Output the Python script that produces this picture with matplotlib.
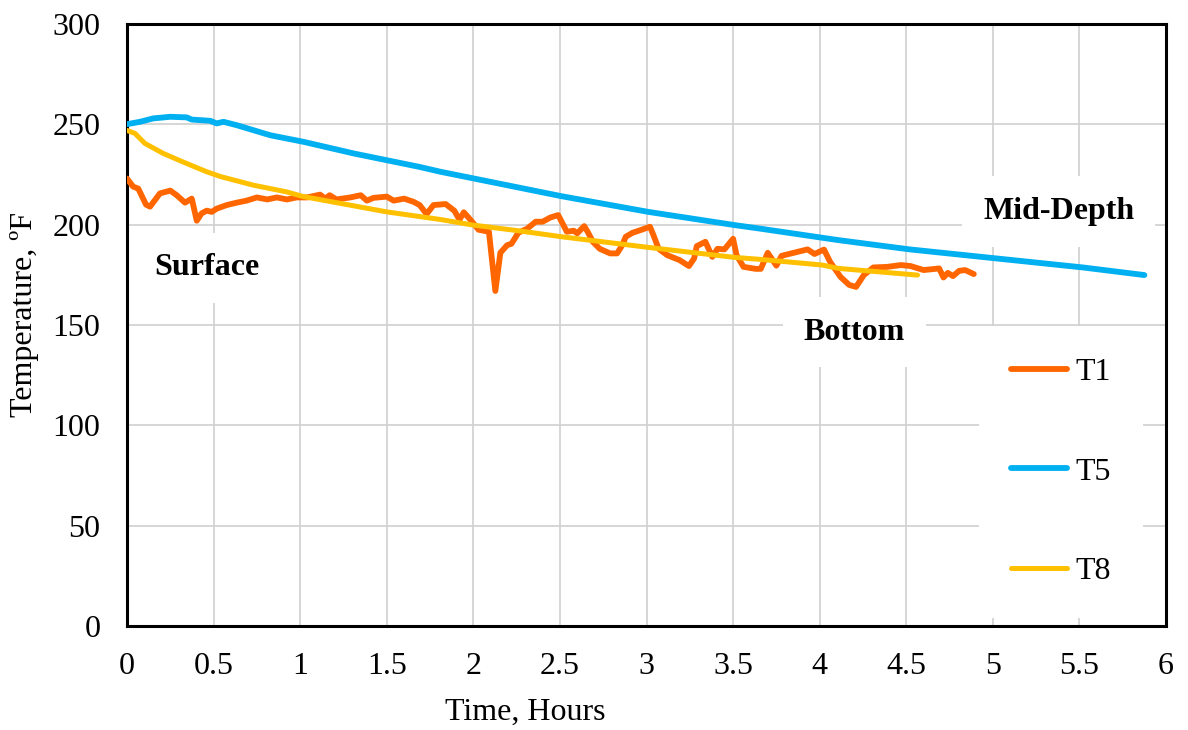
import matplotlib
matplotlib.use("Agg")
import matplotlib.pyplot as plt

# Temperature readings (hours, degrees F)
t1_hours = [0, 0.035, 0.065, 0.11, 0.133, 0.19, 0.25, 0.287, 0.335, 0.374, 0.403, 0.43,
            0.46, 0.49, 0.518, 0.576, 0.634, 0.69, 0.75, 0.81, 0.865, 0.923, 0.98, 1.04,
            1.115, 1.145, 1.17, 1.21, 1.29, 1.35, 1.385, 1.424, 1.50, 1.54, 1.60, 1.655,
            1.69, 1.73, 1.77, 1.84, 1.89, 1.92, 1.945, 1.99, 2.03, 2.09, 2.127, 2.156,
            2.195, 2.22, 2.26, 2.31, 2.36, 2.40, 2.445, 2.49, 2.52, 2.54, 2.58, 2.60,
            2.64, 2.66, 2.69, 2.73, 2.79, 2.83, 2.86, 2.88, 2.92, 2.965, 3.02, 3.04,
            3.07, 3.12, 3.19, 3.245, 3.275, 3.29, 3.34, 3.38, 3.41, 3.45, 3.50, 3.52,
            3.56, 3.63, 3.66, 3.70, 3.75, 3.78, 3.85, 3.93, 3.97, 4.025, 4.06, 4.12,
            4.17, 4.21, 4.255, 4.31, 4.39, 4.47, 4.525, 4.60, 4.69, 4.715, 4.74, 4.77,
            4.805, 4.84, 4.89]
t1_temp = [223, 219, 218, 210, 209, 215.6, 217, 214.7, 211, 213, 202, 205.6,
           207, 206.4, 208, 209.8, 211, 212, 213.6, 212.6, 213.6, 212.6, 213.6, 213.6,
           215, 213, 214.7, 212.6, 213.6, 214.7, 212, 213.4, 214, 212, 213, 211.4,
           209.8, 205.3, 209.8, 210.3, 207, 202.5, 206.2, 201.8, 197.5, 196.5, 167, 186,
           189.8, 190.5, 196, 198, 201.5, 201.5, 203.6, 204.8, 199.8, 196.5, 197, 195.7,
           199.3, 196.5, 191.5, 188, 185.7, 185.7, 189.8, 194, 196, 197.3, 199, 194.8,
           188, 184.8, 182.4, 179.4, 183.2, 189.3, 191.5, 184, 188, 187.7, 193, 184.8,
           179, 178, 178, 186, 179.6, 184.5, 186, 187.7, 185.4, 187.6, 181.5, 174,
           170, 169, 174.9, 178.7, 179, 179.9, 179.4, 177.4, 178.2, 173.7, 176, 174.4,
           177, 177.4, 175.4]

t5_hours = [0, 0.075, 0.152, 0.25, 0.345, 0.374, 0.48, 0.518, 0.557, 0.634, 0.827, 1.02,
            1.31, 1.69, 1.81, 2.51, 3.01, 3.51, 3.66, 4.015, 4.11, 4.52, 5.02, 5.52, 5.875]
t5_temp = [250.1, 251.3, 253, 253.8, 253.5, 252.4, 251.8, 250.5, 251.3, 249.6, 244.6, 241.3,
           235.5, 228.8, 226.4, 214.2, 206.4, 199.8, 198.0, 193.5, 192.3, 187.7, 183.2, 178.7, 174.9]

t8_hours = [0, 0.046, 0.104, 0.21, 0.345, 0.46, 0.54, 0.73, 0.92, 1.02, 1.5, 1.81, 2.0,
            2.26, 2.51, 3.01, 3.51, 3.66, 4.015, 4.11, 4.565]
t8_temp = [247, 245.5, 240.5, 235.5, 230.5, 226.4, 224, 219.7, 216.4, 214, 206.4, 202.6, 199.8,
           197, 194, 188.7, 183.7, 182.7, 179.9, 178.2, 174.9]

series_labels = ["T1", "T5", "T8"]
x_ticks = [0, 0.5, 1, 1.5, 2, 2.5, 3, 3.5, 4, 4.5, 5, 5.5, 6]
x_tick_labels = ["0", "0.5", "1", "1.5", "2", "2.5", "3", "3.5", "4", "4.5", "5", "5.5", "6"]
y_ticks = [0, 50, 100, 150, 200, 250, 300]

plt.rcParams["font.family"] = ["Liberation Serif", "DejaVu Serif"]

fig = plt.figure(figsize=(11.88, 7.30), dpi=100)
ax = fig.add_axes([0.1069, 0.1425, 0.8746, 0.8245])

colors = {"T1": "#FF6600", "T5": "#00B0F0", "T8": "#FFC000"}
ax.plot(t1_hours, t1_temp, color=colors["T1"], lw=4.2, label=series_labels[0],
        solid_capstyle="round", solid_joinstyle="round", zorder=3)
ax.plot(t5_hours, t5_temp, color=colors["T5"], lw=4.2, label=series_labels[1],
        solid_capstyle="round", solid_joinstyle="round", zorder=3)
ax.plot(t8_hours, t8_temp, color=colors["T8"], lw=3.6, label=series_labels[2],
        solid_capstyle="round", solid_joinstyle="round", zorder=3)

ax.set_xlim(0, 6)
ax.set_ylim(0, 300)
ax.set_xticks(x_ticks)
ax.set_xticklabels(x_tick_labels)
ax.set_yticks(y_ticks)
ax.tick_params(length=0, labelsize=23, pad=19)
ax.grid(True, color="#D0D0D0", lw=1.2, zorder=0)
ax.set_axisbelow(True)
for sp in ax.spines.values():
    sp.set_color("black")
    sp.set_linewidth(2.2)

ax.set_xlabel("Time, Hours", fontsize=23)
ax.xaxis.set_label_coords(0.383, -0.12)
ax.set_ylabel("Temperature, ºF", fontsize=23)
ax.yaxis.set_label_coords(-0.085, 0.517)

box = dict(boxstyle="square,pad=0.65", fc="white", ec="none")
ax.text(0.46, 178.5, "Surface", fontsize=23, fontweight="bold", ha="center", va="center",
        bbox=box, zorder=4)
ax.text(5.38, 206.5, "Mid-Depth", fontsize=23, fontweight="bold", ha="center", va="center",
        bbox=box, zorder=4)
ax.text(4.2, 146.5, "Bottom", fontsize=23, fontweight="bold", ha="center", va="center",
        bbox=box, zorder=4)

leg = ax.legend(loc="center", bbox_to_anchor=(0.899, 0.256), fontsize=23,
                frameon=True, fancybox=False, handlelength=1.75, handletextpad=0.25,
                labelspacing=2.2, borderpad=1.0)
leg.get_frame().set_facecolor("white")
leg.get_frame().set_edgecolor("none")
leg.get_frame().set_alpha(1)
leg.set_zorder(5)

fig.savefig("out.png", dpi=100)
